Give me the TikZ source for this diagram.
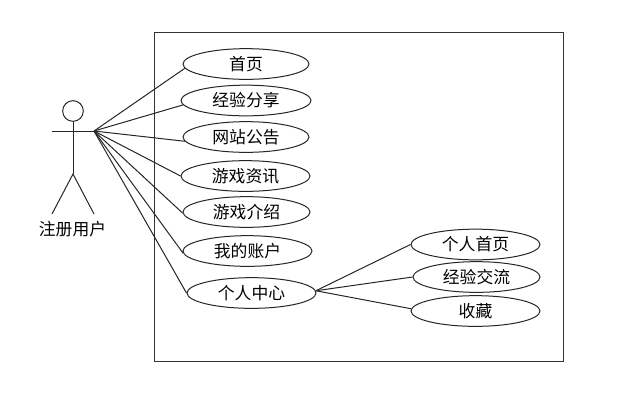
\documentclass[tikz,border=0pt]{standalone}
\usepackage{fontspec}
\newfontfamily\cjk{Noto Sans CJK SC}
\usetikzlibrary{shapes.geometric}
\newcommand{\useCase}[5]{%%
  \node[caseStyle,minimum width=#4*0.75pt] (#1) at (#2,#3) {#5};
}
\begin{document}
\begin{tikzpicture}[%%
  x=0.75pt,y=-0.75pt,%%
  lineStyle/.style={-,line width=0.75pt,black!85},%%
  frameStyle/.style={-,line width=0.75pt,black!80},%%
  caseStyle/.style={ellipse,draw,black!85,text=black,line width=0.75pt,inner sep=0pt,minimum height=23pt,font=\cjk\fontsize{12.6pt}{14pt}\selectfont},%%
  headStyle/.style={circle,draw,black!85,line width=0.75pt,inner sep=0pt,minimum size=15.5pt},%%
  labelStyle/.style={inner sep=0pt,font=\cjk\fontsize{12.6pt}{14pt}\selectfont}
]
\useasboundingbox (0,0) rectangle (624,401);
%%
%% The system boundary.
\draw[frameStyle] (154,32.5) rectangle (563,361.5);
%%
%% The actor.
\node[headStyle] (head) at (73,111) {};
\coordinate (armL) at (52,131);
\coordinate (armR) at (94,131);
\coordinate (hip) at (73,174);
\coordinate (footL) at (52,214);
\coordinate (footR) at (94,214);
\draw[lineStyle] (armL) -- (armR);
\draw[lineStyle] (head) -- (hip);
\draw[lineStyle] (footL) -- (hip) -- (footR);
\node[labelStyle] (user) at (72.5,229.5) {注册用户};
%%
%% The use cases of the user.
\useCase{home}{246}{64}{126}{首页}
\useCase{share}{246}{100.5}{130}{经验分享}
\useCase{notice}{246}{137}{126}{网站公告}
\useCase{news}{245.5}{176}{129}{游戏资讯}
\useCase{intro}{246.5}{212}{127}{游戏介绍}
\useCase{account}{247.5}{251}{129}{我的账户}
\useCase{center}{251.5}{293}{129}{个人中心}
%%
%% The use cases of the personal centre.
\useCase{page}{475.5}{244.5}{129}{个人首页}
\useCase{talk}{476.5}{277}{127}{经验交流}
\useCase{collect}{475.5}{311}{129}{收藏}
%%
%% The associations.
\draw[lineStyle] (armR) -- (home.184);
\draw[lineStyle] (armR) -- (share.184);
\draw[lineStyle] (armR) -- (notice.184);
\draw[lineStyle] (armR) -- (news.west);
\draw[lineStyle] (armR) -- (intro.181);
\draw[lineStyle] (armR) -- (account.182);
\draw[lineStyle] (armR) -- (center.west);
\draw[lineStyle] (center.2) -- (page.west);
\draw[lineStyle] (center.2) -- (talk.west);
\draw[lineStyle] (center.2) -- (collect.178);
\end{tikzpicture}
\end{document}
